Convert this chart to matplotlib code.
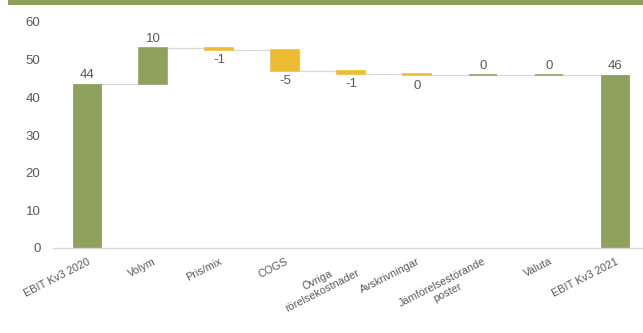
import matplotlib.pyplot as plt
from matplotlib.patches import Rectangle

categories = ['EBIT Kv3 2020', 'Volym', 'Pris/mix', 'COGS', 'Övriga\nrörelsekostnader',
              'Avskrivningar', 'Jämförelsestörande\nposter', 'Valuta', 'EBIT Kv3 2021']
start_value = 43.6
changes = [9.5, -0.6, -5.4, -0.8, -0.5, 0.1, 0.1]

green = '#8fa25d'
yellow = '#ecbd33'
grey_text = '#595959'

plt.rcParams['font.family'] = ['Liberation Sans', 'DejaVu Sans']

fig = plt.figure(figsize=(6.43, 3.33), dpi=100)
ax = fig.add_axes([53 / 643, 85 / 333, 590 / 643, 226 / 333])

# title band, cut off at the top of the picture
fig.patches.append(Rectangle((8 / 643, 1 - 5 / 333), 1, 5 / 333, transform=fig.transFigure,
                             facecolor='#8da05a', edgecolor='none'))

width = 0.42
end_value = start_value + sum(changes)

# running totals
bottoms = []
tops = []
level = start_value
for c in changes:
    bottoms.append(level)
    level += c
    tops.append(level)

# start and end bars
for i, v in [(0, start_value), (len(categories) - 1, end_value)]:
    ax.bar(i, v, width=width, color=green, edgecolor=green, linewidth=0.6)
    ax.annotate(f'{round(v)}', (i, v), xytext=(0, 2), textcoords='offset points',
                ha='center', va='bottom', fontsize=9.5, color=grey_text)

# change bars
for k, c in enumerate(changes):
    i = k + 1
    lo = min(bottoms[k], tops[k])
    color = green if c >= 0 else yellow
    ax.bar(i, abs(c), bottom=lo, width=width, color=color, edgecolor=color, linewidth=1.2)
    if c >= 0:
        ax.annotate(f'{round(c)}', (i, lo + abs(c)), xytext=(0, 2), textcoords='offset points',
                    ha='center', va='bottom', fontsize=9.5, color=grey_text)
    else:
        ax.annotate(f'{round(c)}', (i, lo), xytext=(0, -3), textcoords='offset points',
                    ha='center', va='top', fontsize=9.5, color=grey_text)

# connector lines
levels = [start_value] + tops
for i, lv in enumerate(levels):
    ax.plot([i + width / 2, i + 1 - width / 2], [lv, lv], color='#d9d9d9', linewidth=0.9, zorder=0)

ax.set_xlim(-0.515, 8.42)
ax.set_ylim(0, 60)
ax.set_yticks(range(0, 61, 10))
ax.set_xticks(range(len(categories)))
ax.set_xticklabels(categories, rotation=27, ha='right', va='top', rotation_mode='anchor',
                   fontsize=7.8, color=grey_text, multialignment='center')
ax.tick_params(axis='both', length=0, colors=grey_text, labelsize=9.5)
ax.tick_params(axis='x', pad=6, labelsize=7.8)
ax.tick_params(axis='y', pad=9)

for s in ['top', 'right', 'left']:
    ax.spines[s].set_visible(False)
ax.spines['bottom'].set_color('#d9d9d9')
ax.spines['bottom'].set_linewidth(1)

fig.savefig('out.png', dpi=100)
